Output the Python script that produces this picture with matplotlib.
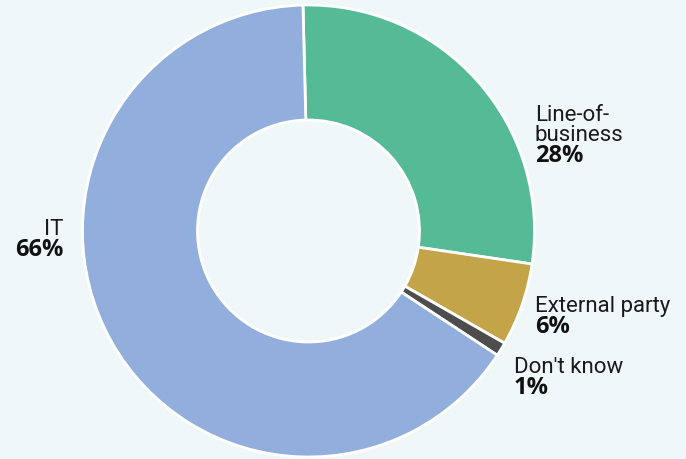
import matplotlib.pyplot as plt

# who owns the decision
labels = ["Line-of-\nbusiness", "External party", "Don't know", "IT"]
shares = [28, 6, 1, 66]
colors = ["#55bb96", "#c4a449", "#4d4d4d", "#92aedd"]

bg = "#f0f7f9"
W, H = 686, 459

plt.rcParams['font.family'] = ['Roboto', 'DejaVu Sans']

fig = plt.figure(figsize=(W / 100, H / 100), dpi=100, facecolor=bg)
ax = fig.add_axes([0, 0, 1, 1])
ax.set_facecolor(bg)

# pixel-like coordinates, y pointing up
cx, cy, r_out, r_in = 308.5, H - 231, 226, 111
ax.pie(shares, colors=colors, center=(cx, cy), radius=r_out,
       startangle=91.4, counterclock=False,
       wedgeprops=dict(width=r_out - r_in, edgecolor="white", linewidth=2))

ax.set_xlim(0, W)
ax.set_ylim(0, H)
ax.set_aspect("equal")
ax.axis("off")

fs = 16
# (x, baseline of name's last line, alignment)
spots = [(535, 141, "left"), (535, 312, "left"), (514, 373, "left"), (63, 235, "right")]
for lab, val, (x, y, ha) in zip(labels, shares, spots):
    ax.text(x, H - y, lab, ha=ha, va="baseline", fontsize=fs,
            color="#1a1a1a", linespacing=0.92)
    ax.text(x, H - y - 21, f"{val}%", ha=ha, va="baseline", fontsize=17,
            family=["Open Sans", "DejaVu Sans"], fontweight="bold",
            color="#111111")

fig.savefig("out.png", dpi=100, facecolor=bg)
